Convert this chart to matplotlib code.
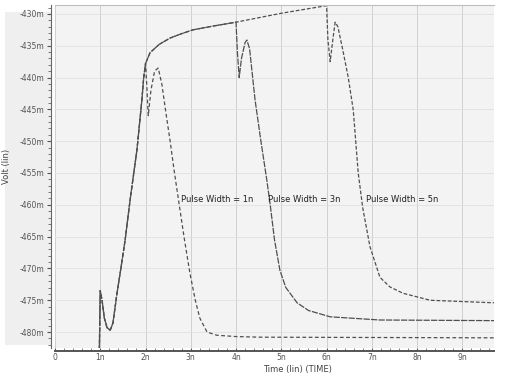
import matplotlib
matplotlib.use("Agg")
import matplotlib.pyplot as plt
from matplotlib.ticker import MultipleLocator, FuncFormatter
from matplotlib.patches import Rectangle

# time in ns, voltage in mV
t_1n = [0.0, 0.98, 1.0, 1.04, 1.09, 1.15, 1.22, 1.28, 1.37, 1.46, 1.55, 1.66, 1.81,
        1.92, 1.96, 2.0, 2.03, 2.06, 2.12, 2.2, 2.28, 2.36, 2.45, 2.54, 2.63, 2.72,
        2.85, 2.98, 3.1, 3.2, 3.36, 3.58, 4.0, 4.53, 9.7]
v_1n = [-482.7, -482.7, -473.5, -475.0, -477.8, -479.3, -479.7, -478.6, -473.9, -469.8,
        -465.5, -459.2, -451.4, -443.5, -440.0, -437.8, -441.5, -446.0, -442.0, -439.0,
        -438.5, -441.0, -445.5, -449.8, -454.5, -458.8, -465.0, -470.7, -475.0, -477.8,
        -480.0, -480.5, -480.7, -480.8, -480.9]

t_3n = [0.0, 0.98, 1.0, 1.04, 1.09, 1.15, 1.22, 1.28, 1.37, 1.46, 1.55, 1.66, 1.81,
        1.92, 1.96, 2.0, 2.1, 2.3, 2.54, 2.8, 3.05, 3.5, 4.0, 4.03, 4.07, 4.12, 4.2,
        4.24, 4.3, 4.42, 4.55, 4.68, 4.75, 4.85, 4.97, 5.1, 5.35, 5.6, 6.08, 7.18, 9.7]
v_3n = [-482.7, -482.7, -473.5, -475.0, -477.8, -479.3, -479.7, -478.6, -473.9, -469.8,
        -465.5, -459.2, -451.4, -443.5, -440.0, -437.8, -436.1, -434.8, -433.8, -433.1,
        -432.5, -431.9, -431.3, -436.0, -440.0, -437.0, -434.5, -434.1, -435.5, -443.5,
        -450.0, -456.1, -459.7, -465.5, -470.3, -473.0, -475.4, -476.6, -477.6, -478.1,
        -478.2]

t_5n = [0.0, 0.98, 1.0, 1.04, 1.09, 1.15, 1.22, 1.28, 1.37, 1.46, 1.55, 1.66, 1.81,
        1.92, 1.96, 2.0, 2.1, 2.3, 2.54, 2.8, 3.05, 3.5, 4.0, 4.5, 5.0, 5.5, 6.0, 6.03,
        6.08, 6.14, 6.19, 6.25, 6.36, 6.48, 6.59, 6.7, 6.8, 6.96, 7.18, 7.4, 7.69, 8.29,
        9.7]
v_5n = [-482.7, -482.7, -473.5, -475.0, -477.8, -479.3, -479.7, -478.6, -473.9, -469.8,
        -465.5, -459.2, -451.4, -443.5, -440.0, -437.8, -436.1, -434.8, -433.8, -433.1,
        -432.5, -431.9, -431.3, -430.6, -429.9, -429.3, -428.7, -434.0, -437.5, -434.0,
        -431.3, -432.0, -435.7, -440.0, -445.1, -455.0, -460.5, -466.6, -471.4, -472.9,
        -473.9, -475.0, -475.4]

labels = ["Pulse Width = 1n", "Pulse Width = 3n", "Pulse Width = 5n"]
label_t = [2.78, 4.71, 6.87]
label_v = -459.2

fig = plt.figure(figsize=(5.06, 3.76), dpi=100, facecolor="white")
# grey panel behind the y tick labels, as in the scan
fig.patches.append(Rectangle((5 / 506, 1 - 345 / 376), 46 / 506, 333 / 376,
                             transform=fig.transFigure, facecolor="#efefef",
                             edgecolor="none", zorder=-10))
ax = fig.add_axes([55 / 506, 1 - 348 / 376, 439 / 506, 343 / 376])
ax.set_facecolor("#f3f3f3")

line_color = "#4f4f4f"
ax.plot(t_1n, v_1n, color=line_color, lw=0.9, ls=(0, (3, 2)))
ax.plot(t_3n, v_3n, color=line_color, lw=0.9, ls=(0, (5, 1)))
ax.plot(t_5n, v_5n, color=line_color, lw=0.9, ls=(0, (3, 1.5)))

for lab, tx in zip(labels, label_t):
    ax.text(tx, label_v, lab, fontsize=6, color="#222222", va="center", ha="left")

ax.set_xlim(0, 9.7)
ax.set_ylim(-482.5, -428.6)

ax.xaxis.set_major_locator(MultipleLocator(1))
ax.xaxis.set_minor_locator(MultipleLocator(0.2))
ax.yaxis.set_major_locator(MultipleLocator(5))
ax.yaxis.set_minor_locator(MultipleLocator(1))
ax.xaxis.set_major_formatter(FuncFormatter(lambda x, p: "0" if abs(x) < 1e-9 else "%dn" % round(x)))
ax.yaxis.set_major_formatter(FuncFormatter(lambda y, p: "%dm" % round(y)))

ax.tick_params(axis="both", which="major", labelsize=5.5, labelcolor="#555555",
               color="#555555", length=3, width=0.8, pad=1.5)
ax.tick_params(axis="x", which="both", direction="in", length=2, pad=1.5)
ax.tick_params(axis="both", which="minor", color="#666666", length=2, width=0.6)

ax.grid(True, which="major", axis="x", color="#cfcfcf", lw=0.7)
ax.grid(True, which="major", axis="y", color="#e0e0e0", lw=0.6)

ax.spines["top"].set_color("#bdbdbd")
ax.spines["right"].set_visible(False)
ax.spines["left"].set_color("#666666")
ax.spines["left"].set_position(("outward", 3))
ax.spines["bottom"].set_color("#555555")
ax.spines["bottom"].set_linewidth(1.4)
ax.spines["bottom"].set_position(("outward", 2))

ax.set_xlabel("Time (lin) (TIME)", fontsize=6, color="#444444")
ax.xaxis.set_label_coords(0.553, -0.05)
ax.set_ylabel("Volt (lin)", fontsize=6, color="#444444")
ax.yaxis.set_label_coords(-0.10, 0.53)

fig.savefig("out.png", dpi=100, facecolor=fig.get_facecolor())
